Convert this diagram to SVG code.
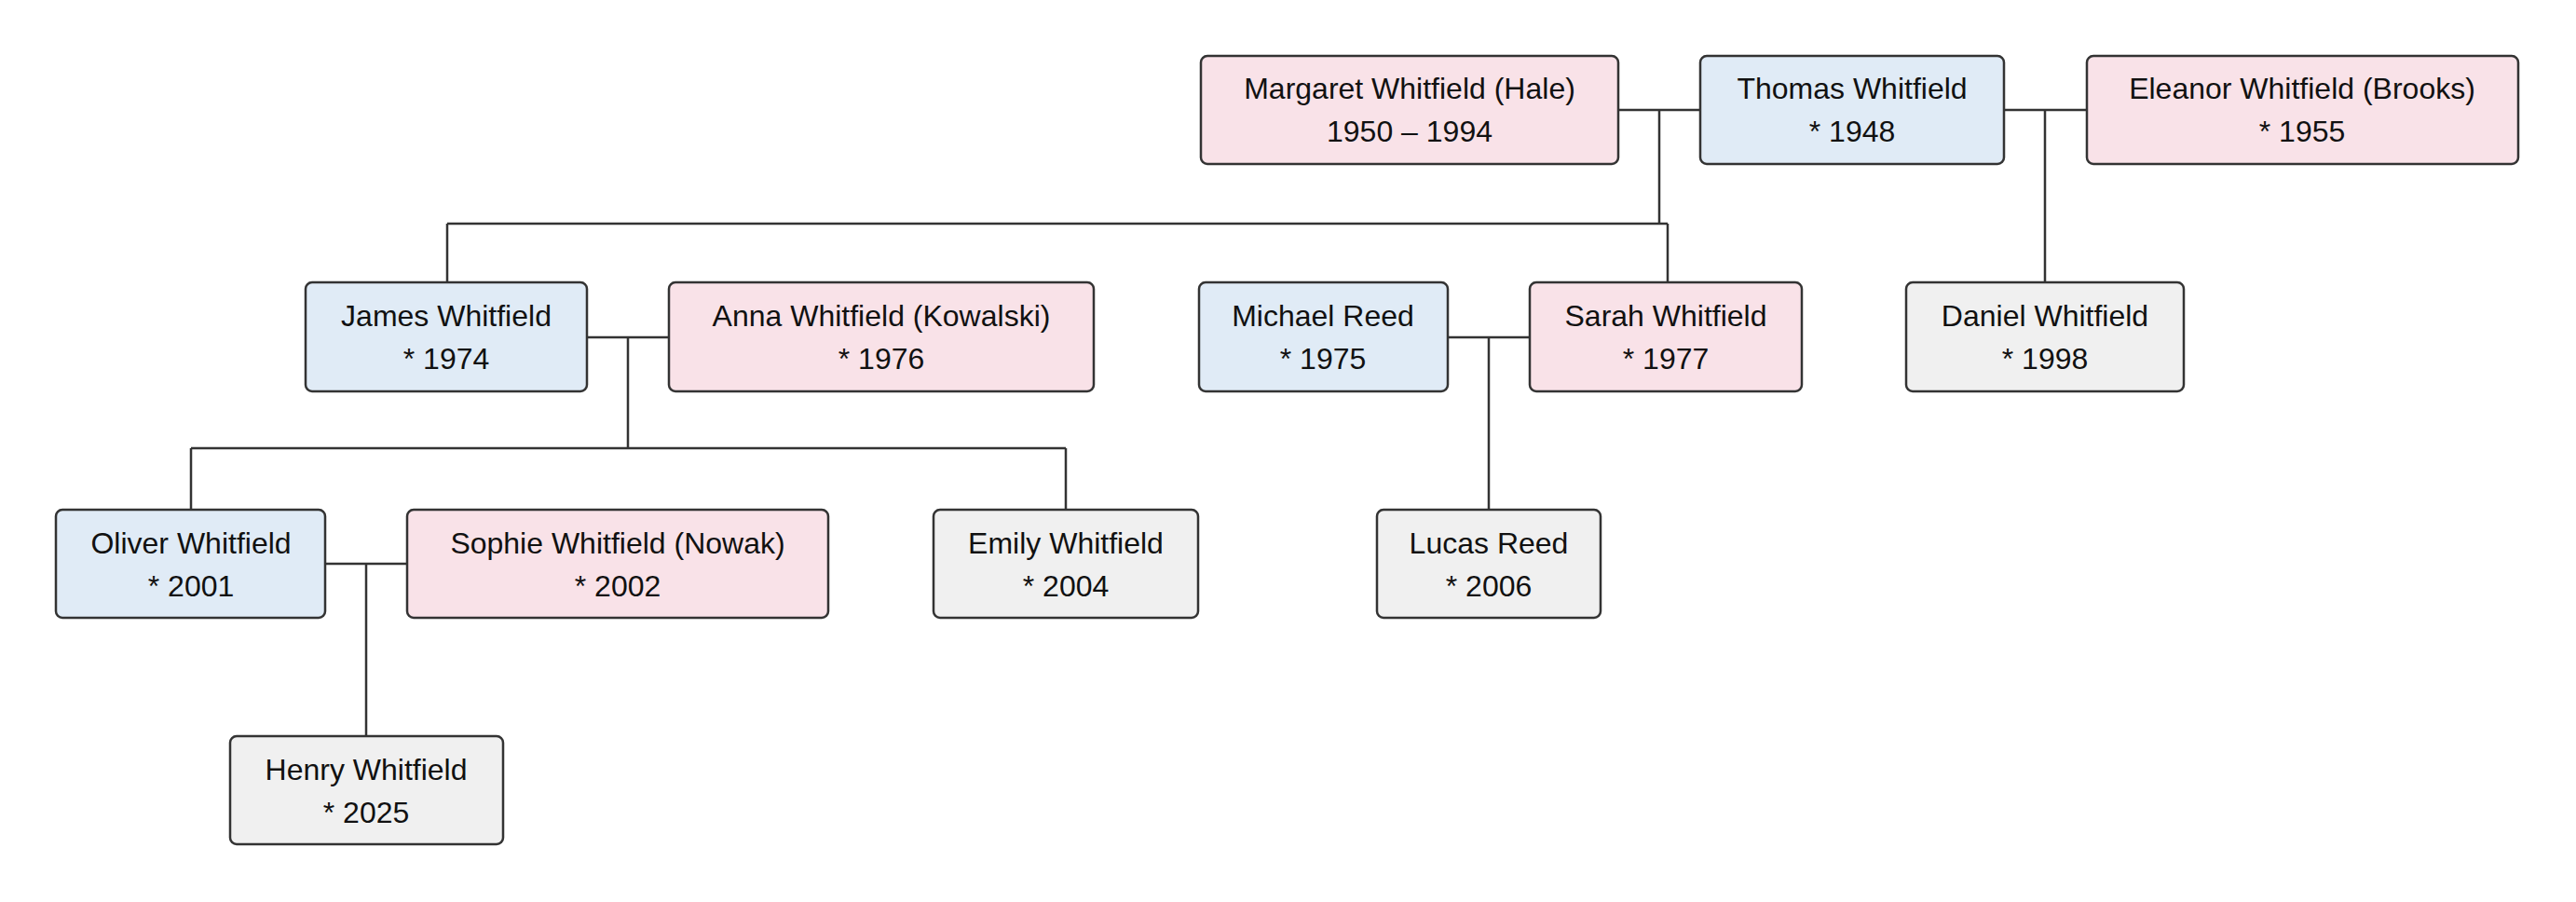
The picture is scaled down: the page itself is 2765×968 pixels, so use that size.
<svg xmlns="http://www.w3.org/2000/svg" width="2765" height="968" viewBox="0 0 2765 968">
<style>
rect{stroke:#333;stroke-width:2.5}
.m{fill:#e0ebf6}.f{fill:#f9e2e8}.c{fill:#f0f0f0}
text{font-family:"Liberation Sans",Arial,sans-serif;font-size:32px;fill:#111;text-anchor:middle}
#connectors path{stroke:#333;stroke-width:2.5;fill:none}
</style>
<rect width="2765" height="968" fill="#fff" style="stroke:none"/>
<g id="connectors">
<path d="M1737 118H1825M1781 118V240M480 240H1790M480 240V303M1790 240V303"/>
<path d="M2151 118H2240M2195 118V303"/>
<path d="M630 362H718M674 362V481M205 481H1144M205 481V547M1144 481V547"/>
<path d="M1554 362H1642M1598 362V547"/>
<path d="M349 605H437M393 605V790"/>
</g>
<g id="margaret"><rect class="f" x="1289" y="60" width="448" height="116" rx="7"/><text x="1513" y="106">Margaret Whitfield (Hale)</text><text x="1513" y="152">1950 – 1994</text></g>
<g id="thomas"><rect class="m" x="1825" y="60" width="326" height="116" rx="7"/><text x="1988" y="106">Thomas Whitfield</text><text x="1988" y="152">* 1948</text></g>
<g id="eleanor"><rect class="f" x="2240" y="60" width="463" height="116" rx="7"/><text x="2471" y="106">Eleanor Whitfield (Brooks)</text><text x="2471" y="152">* 1955</text></g>
<g id="james"><rect class="m" x="328" y="303" width="302" height="117" rx="7"/><text x="479" y="350">James Whitfield</text><text x="479" y="396">* 1974</text></g>
<g id="anna"><rect class="f" x="718" y="303" width="456" height="117" rx="7"/><text x="946" y="350">Anna Whitfield (Kowalski)</text><text x="946" y="396">* 1976</text></g>
<g id="michael"><rect class="m" x="1287" y="303" width="267" height="117" rx="7"/><text x="1420" y="350">Michael Reed</text><text x="1420" y="396">* 1975</text></g>
<g id="sarah"><rect class="f" x="1642" y="303" width="292" height="117" rx="7"/><text x="1788" y="350">Sarah Whitfield</text><text x="1788" y="396">* 1977</text></g>
<g id="daniel"><rect class="c" x="2046" y="303" width="298" height="117" rx="7"/><text x="2195" y="350">Daniel Whitfield</text><text x="2195" y="396">* 1998</text></g>
<g id="oliver"><rect class="m" x="60" y="547" width="289" height="116" rx="7"/><text x="205" y="594">Oliver Whitfield</text><text x="205" y="640">* 2001</text></g>
<g id="sophie"><rect class="f" x="437" y="547" width="452" height="116" rx="7"/><text x="663" y="594">Sophie Whitfield (Nowak)</text><text x="663" y="640">* 2002</text></g>
<g id="emily"><rect class="c" x="1002" y="547" width="284" height="116" rx="7"/><text x="1144" y="594">Emily Whitfield</text><text x="1144" y="640">* 2004</text></g>
<g id="lucas"><rect class="c" x="1478" y="547" width="240" height="116" rx="7"/><text x="1598" y="594">Lucas Reed</text><text x="1598" y="640">* 2006</text></g>
<g id="henry"><rect class="c" x="247" y="790" width="293" height="116" rx="7"/><text x="393" y="837">Henry Whitfield</text><text x="393" y="883">* 2025</text></g>
</svg>
